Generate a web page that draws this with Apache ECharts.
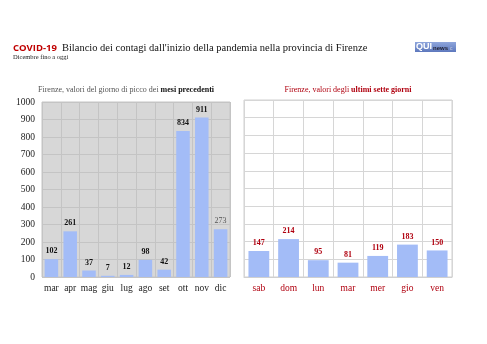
<!DOCTYPE html>
<html><head><meta charset="utf-8">
<script src="https://cdn.jsdelivr.net/npm/echarts@6/dist/echarts.min.js"></script>
<style>html,body{margin:0;padding:0;background:#fff}#c{width:487px;height:344px}</style>
</head><body><div id="c"></div>
<script>
const monthCats = ['mar','apr','mag','giu','lug','ago','set','ott','nov','dic'];
const monthVals = [102,261,37,7,12,98,42,834,911,273];
const dayCats = ['sab','dom','lun','mar','mer','gio','ven'];
const dayVals = [147,214,95,81,119,183,150];
const yTicks = [0,100,200,300,400,500,600,700,800,900,1000];

const serif = '"Liberation Serif", "DejaVu Serif", serif';
const barColor = '#a3bcf7';
const red = '#b0000f';

const chart = echarts.init(document.getElementById('c'));
chart.setOption({
  animation: false,
  backgroundColor: '#fff',
  title: [
    {text: '{a|COVID-19} {b|Bilancio dei contagi dall\'inizio della pandemia nella provincia di Firenze}',
     left: 8, top: 34,
     textStyle: {fontWeight: 'normal', rich: {
       a: {fontFamily: '"Open Sans", "Liberation Sans", sans-serif', fontWeight: 'bold', fontSize: 9.5, color: '#c00000'},
       b: {fontFamily: serif, fontSize: 10.5, fontWeight: 'normal', color: '#111'}
     }}},
    {text: 'Dicembre fino a oggi', left: 8, top: 49,
     textStyle: {fontFamily: serif, fontSize: 6.5, fontWeight: 'normal', color: '#222'}},
    {text: 'Firenze, valori del giorno di picco dei {b|mesi precedenti}', left: 121, top: 81, textAlign: 'center',
     textStyle: {fontFamily: serif, fontSize: 8, fontWeight: 'normal', color: '#555',
       rich: {b: {fontFamily: serif, fontSize: 8, fontWeight: 'bold', color: '#111'}}}},
    {text: 'Firenze, valori degli {b|ultimi sette giorni}', left: 343, top: 81, textAlign: 'center',
     textStyle: {fontFamily: serif, fontSize: 8, fontWeight: 'normal', color: red,
       rich: {b: {fontFamily: serif, fontSize: 8, fontWeight: 'bold', color: red}}}}
  ],
  graphic: [
    {type: 'rect', left: 415, top: 42, shape: {width: 41, height: 10},
     style: {fill: new echarts.graphic.LinearGradient(0,0,0,1,[{offset:0,color:'#8fa6dc'},{offset:1,color:'#5d78bd'}])}},
    {type: 'text', left: 416, top: 42, style: {text: 'QUI', fill: '#fff', font: 'bold 9px "Liberation Sans", sans-serif'}},
    {type: 'text', left: 433, top: 45, style: {text: 'news', fill: '#223', font: 'bold 6px "Liberation Sans", sans-serif'}},
    {type: 'text', left: 450, top: 46, style: {text: 'c', fill: '#ccd', font: '5px "Liberation Sans", sans-serif'}}
  ],
  grid: [
    {left: 42, right: 257, top: 102, bottom: 67, show: true, backgroundColor: '#d7d7d7', borderColor: '#c4c4c4', borderWidth: 1},
    {left: 244, right: 35, top: 100, bottom: 67, show: true, backgroundColor: '#fff', borderColor: '#d0d0d0', borderWidth: 1}
  ],
  xAxis: [
    {type: 'category', gridIndex: 0, data: monthCats,
     axisLine: {show: false}, axisTick: {show: false},
     splitLine: {show: true, interval: 0, lineStyle: {color: '#c4c4c4', width: 1}},
     axisLabel: {interval: 0, fontFamily: serif, fontSize: 9.5, color: '#222', margin: 6}},
    {type: 'category', gridIndex: 1, data: dayCats,
     axisLine: {show: true, lineStyle: {color: '#d0d0d0'}}, axisTick: {show: false},
     splitLine: {show: true, interval: 0, lineStyle: {color: '#d6d6d6', width: 1}},
     axisLabel: {interval: 0, fontFamily: serif, fontSize: 9.5, color: red, margin: 6}}
  ],
  yAxis: [
    {type: 'value', gridIndex: 0, min: yTicks[0], max: yTicks[yTicks.length-1], interval: 100,
     axisLine: {show: false}, axisTick: {show: false},
     splitLine: {lineStyle: {color: '#c4c4c4', width: 1}},
     axisLabel: {fontFamily: serif, fontSize: 9.5, color: '#222', margin: 7, formatter: v => String(v)}},
    {type: 'value', gridIndex: 1, min: yTicks[0], max: yTicks[yTicks.length-1], interval: 100,
     axisLine: {show: false}, axisTick: {show: false},
     splitLine: {lineStyle: {color: '#d6d6d6', width: 1}},
     axisLabel: {show: false}}
  ],
  series: [
    {type: 'bar', xAxisIndex: 0, yAxisIndex: 0, barCategoryGap: '28%',
     data: monthVals.map((v, i) => i === monthVals.length - 1
       ? {value: v, label: {color: '#555', fontWeight: 'normal'}} : v),
     itemStyle: {color: barColor},
     label: {show: true, position: 'top', distance: 4, fontFamily: serif, fontSize: 8, fontWeight: 'bold', color: '#111'}},
    {type: 'bar', xAxisIndex: 1, yAxisIndex: 1, barCategoryGap: '30%',
     data: dayVals,
     itemStyle: {color: barColor},
     label: {show: true, position: 'top', distance: 4, fontFamily: serif, fontSize: 8, fontWeight: 'bold', color: red}}
  ]
});
</script></body></html>
